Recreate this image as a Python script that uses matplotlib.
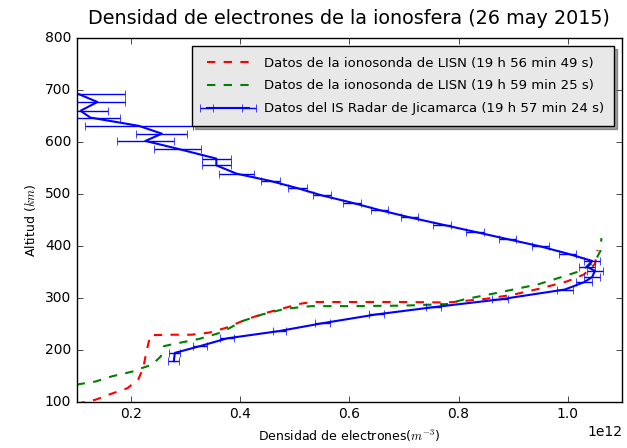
import matplotlib

matplotlib.use("Agg")
import matplotlib.pyplot as plt
import numpy as np

plt.style.use("classic")

# Ionosonde LISN 19h56m49s (density in 1e12 m^-3, altitude in km)
lisn_a_dens = [0.100, 0.135, 0.160, 0.193, 0.213, 0.222, 0.228, 0.235, 0.270, 0.310,
               0.343, 0.373, 0.410, 0.447, 0.483, 0.507, 0.530, 0.600, 0.700, 0.780,
               0.850, 0.900, 0.950, 1.000, 1.030, 1.050, 1.055]
lisn_a_alt = [96, 104, 114, 126, 143, 165, 197, 228, 229, 229,
              233, 242, 258, 271, 281, 288, 292, 292, 292, 291,
              298, 306, 318, 332, 345, 365, 392]

# Ionosonde LISN 19h59m25s
lisn_b_dens = [0.100, 0.135, 0.165, 0.202, 0.220, 0.238, 0.254, 0.260, 0.282, 0.325,
               0.367, 0.403, 0.440, 0.483, 0.530, 0.600, 0.700, 0.780, 0.810, 0.873,
               0.946, 0.995, 1.024, 1.050, 1.060, 1.062]
lisn_b_alt = [133, 139, 149, 158, 165, 171, 187, 207, 212, 221,
              234, 255, 268, 279, 284, 284, 285, 288, 297, 310,
              326, 342, 352, 370, 390, 415]

# Jicamarca IS radar profile with horizontal error bars
radar_dens = [0.278, 0.280, 0.326, 0.376, 0.471, 0.550, 0.649, 0.754, 0.876, 0.995,
              1.030, 1.045, 1.050, 1.035, 1.045, 1.000, 0.950, 0.890, 0.830, 0.770,
              0.710, 0.655, 0.605, 0.550, 0.505, 0.455, 0.393, 0.356, 0.356, 0.285,
              0.226, 0.256, 0.214, 0.125, 0.107, 0.138, 0.104]
radar_alt = [178, 194, 207, 222, 236, 251, 268, 282, 297, 316,
             330, 340, 352, 360, 371, 385, 399, 413, 427, 441,
             455, 469, 483, 497, 511, 525, 539, 555, 568, 587,
             602, 616, 631, 647, 660, 677, 692]
radar_err = [0.010, 0.010, 0.012, 0.013, 0.012, 0.014, 0.014, 0.014, 0.014, 0.015,
             0.015, 0.015, 0.015, 0.015, 0.015, 0.015, 0.015, 0.016, 0.016, 0.016,
             0.016, 0.016, 0.017, 0.017, 0.017, 0.018, 0.032, 0.027, 0.027, 0.043,
             0.053, 0.047, 0.099, 0.054, 0.050, 0.050, 0.084]

scale = 1e12

fig = plt.figure(figsize=(6.27, 4.48), dpi=100, facecolor="white")
ax = fig.add_axes([0.1223, 0.1033, 0.870, 0.8117])

ax.plot(np.array(lisn_a_dens) * scale, lisn_a_alt, "r--", lw=1.5,
        label="Datos de la ionosonda de LISN (19 h 56 min 49 s)")
ax.plot(np.array(lisn_b_dens) * scale, lisn_b_alt, "g--", lw=1.5,
        label="Datos de la ionosonda de LISN (19 h 59 min 25 s)")
ax.errorbar(np.array(radar_dens) * scale, radar_alt, xerr=np.array(radar_err) * scale,
            color="b", ecolor="b", lw=1.5, elinewidth=1.0, capsize=3,
            label="Datos del IS Radar de Jicamarca (19 h 57 min 24 s)")

ax.set_xlim(0.1e12, 1.1e12)
ax.set_ylim(100, 800)
ax.set_xticks(np.array([0.2, 0.4, 0.6, 0.8, 1.0]) * scale)
ax.tick_params(labelsize=10)
ax.xaxis.get_offset_text().set_fontsize(10)

ax.set_title("Densidad de electrones de la ionosfera (26 may 2015)", fontsize=13.8, pad=10)
ax.set_xlabel("Densidad de electrones($m^{-3}$)", fontsize=9)
ax.set_ylabel("Altitud ($km$)", fontsize=9)

leg = ax.legend(loc="upper right", fontsize=9.5, shadow=True, fancybox=False,
                handlelength=3.8, handletextpad=0.8, labelspacing=0.75,
                borderpad=0.8, borderaxespad=0.6, numpoints=2)
leg.get_frame().set_facecolor("#e8e8e8")

fig.savefig("out.png", dpi=100, facecolor="white")
